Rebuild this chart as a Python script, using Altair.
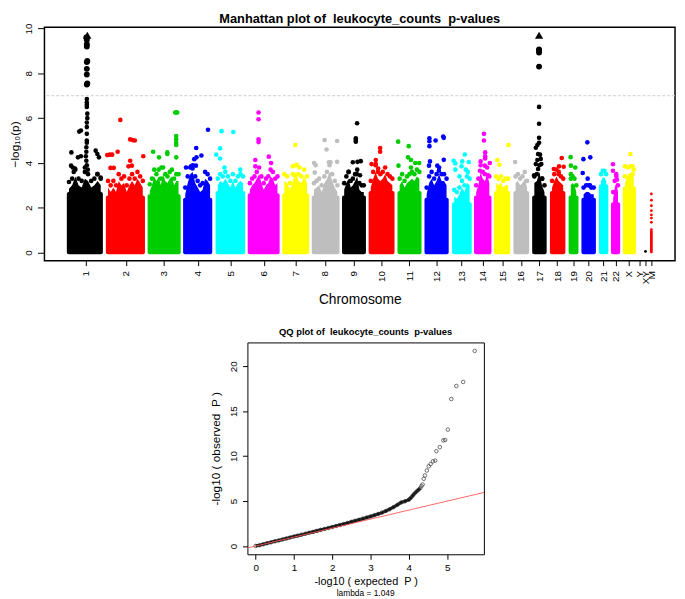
import json
import altair as alt
import pandas as pd

FONT = "Liberation Sans"

CHROMS = ["1","2","3","4","5","6","7","8","9","10","11","12","13","14","15","16","17","18","19","20","21","22","X","Y","XY","M"]
COLORS = ["#000000","#ff0000","#00cd00","#0000ff","#00ffff","#ff00ff","#ffff00","#bebebe",
          "#000000","#ff0000","#00cd00","#0000ff","#00ffff","#ff00ff","#ffff00","#bebebe",
          "#000000","#ff0000","#00cd00","#0000ff","#00ffff","#ff00ff","#ffff00","#bebebe","#000000","#ff0000"]
TICKS = [85,125.7,164,198.7,231.7,265.7,297.7,327.7,356.7,385,413.3,441,466,487.7,507.7,526.7,545,563.3,580,595.3,610,622.7,636.3,647.3,653,659]

# genome span of each autosome / X, on the cumulative position axis
SPANS = {"1":(65.7,102.3),"2":(105.3,145),"3":(147.7,181.3),"4":(183.7,213.3),"5":(216.7,246.7),"6":(249.3,281.7),
         "7":(284.3,311.7),"8":(314.3,342.5),"9":(345,369.3),"10":(372,398.3),"11":(401.3,425.7),"12":(428.7,453.3),
         "13":(456.7,476.7),"14":(479,496.7),"15":(499.3,515.7),"16":(519,535),"17":(538,552.7),"18":(556,571.7),
         "19":(575,585),"20":(588,602.7),"21":(605.7,615.3),"22":(618,627.3),"X":(630,643.3)}
M_SPAN = (657.6,660.4)
M_SOLID_TOP = 1.0

# upper edge of the dense cloud of each chromosome
TOPS = {"1":[3.15,3.3,3.7,3.3,3.2,3.6,3.5,3.2,3.3,3.5,3.3],
        "2":[3.2,3.0,3.2,3.0,3.5,3.3,3.4,3.0,3.3,3.5,3.3,3.6,3.4,3.2],
        "3":[3.05,3.3,3.7,3.5,3.7,3.3,3.8,3.5,3.4,3.6,3.7,3.3,3.5,3.5],
        "4":[2.9,3.4,3.8,3.9,3.4,3.2,3.0,3.1,3.6,3.5,3.3],
        "5":[3.3,3.5,3.4,3.6,3.4,3.2,3.5,3.2,3.4,3.5,3.4],
        "6":[3.1,3.3,3.4,3.6,3.8,3.4,3.1,3.3,3.4,3.7,3.6,3.3,3.4],
        "7":[3.5,3.4,3.1,3.5,3.9,3.5,3.4,3.7,3.4],
        "8":[3.1,3.2,3.3,3.0,3.4,3.6,3.9,3.5,3.2,3.0],
        "9":[3.1,3.4,3.6,3.2,3.3,3.5,3.7,3.1,3.0,3.0],
        "10":[3.2,3.6,3.9,3.6,3.5,3.6,3.8,3.5,3.4,3.3],
        "11":[3.3,3.5,3.2,3.4,3.5,3.6,3.5,3.7,3.6],
        "12":[2.9,3.4,3.6,3.3,3.5,3.8,3.5,3.5,3.3],
        "13":[2.8,2.7,2.9,3.2,3.0,3.4,3.3],
        "14":[3.0,3.3,3.9,3.6,3.5,3.8,3.4],
        "15":[3.4,3.3,3.4,3.2,3.3,3.3],
        "16":[3.4,3.5,3.3,3.4,3.6,3.2],
        "17":[3.4,3.5,3.9,3.3,3.0],
        "18":[3.2,3.5,3.7,3.5,3.4,3.3],
        "19":[3.3,3.4,3.3,3.0],
        "20":[2.9,3.0,3.0,2.9,2.9],
        "21":[3.5,3.65,3.65,3.5],
        "22":[2.7,3.2,3.4,3.0],
        "X":[3.4,3.8,3.85,3.7]}

# individual variants above the cloud: (position, -log10 p)
HITS = {"1":[(70.3,4.47),(70,3.88),(71.7,3.8),(74,3.75),(72.7,3.6),(77,4.25),(80,4.3),(78.3,5.4),(80,5.45),(95,4.55),(96.7,4.4),(98.3,4.25),(96.7,3.5),(100,3.35),
             (86,6.85),(86,6.7),(86,6.6),(86,6.5),(86.5,6.2),(86.5,6.0),(86,5.8),(86,5.6),(86,5.3),(86,5.0),(86,4.9),(85.5,4.7),(85.5,4.5),(85,4.3),(85.5,4.1),(86,3.9),(87,3.7),(84,3.8)],
        "2":[(106.7,4.35),(109.3,4.37),(111.7,4.37),(117.3,4.5),(120,5.92),(130,5.05),(132.7,5.02),(134.7,5.0),(130,4.1),(143.3,4.3),(110,3.78),(113.3,3.78),(128.3,3.85),(131.7,3.88)],
        "3":[(153.3,4.5),(159.3,4.25),(167.7,4.47),(167.7,4.4),(176.7,6.25),(175.7,6.25),(177.7,6.25),(176.7,5.2),(176.7,5.05),(176.7,4.9),(176.7,4.8),(176.7,4.25),(161.7,3.8)],
        "4":[(197,4.67),(195,4.17),(197.3,4.25),(202.3,4.33),(209,5.48),(186.7,3.8),(191.7,3.85),(196.7,3.88),(193.3,3.75)],
        "5":[(222.7,5.42),(234.7,5.38),(221.3,4.65),(217.3,4.37),(221.3,4.2),(225.7,3.8),(241.7,3.7)],
        "6":[(260.3,6.25),(260.3,5.95),(260.3,5.05),(260.3,4.93),(257,4.13),(270.7,4.28),(273,4.0),(257,3.85)],
        "7":[(297.7,4.8),(295,3.85),(299,3.92),(301.7,3.8),(296.7,3.45)],
        "8":[(327.3,5.02),(340,4.98),(329.3,4.6),(340,4.05),(316.7,4.0),(318.3,3.9),(317.3,3.57),(331.7,4.03),(333.3,4.03)],
        "9":[(360.3,5.77),(359,5.1),(359,5.02),(359,4.95),(356,4.03),(360.7,4.05),(364,4.08),(360,3.5),(351.7,3.6),(363.3,3.45)],
        "10":[(383.7,4.67),(383.7,4.5),(379.3,4.13),(375,3.95),(379.3,3.95),(381.7,3.75)],
        "11":[(402,4.95),(412.7,4.75),(412,4.25),(415,4.13),(419.3,4.0),(423.3,4.0),(402.3,3.88),(415,3.8)],
        "12":[(433.7,5.1),(433.7,4.97),(433.7,4.75),(440,5.0),(447.7,5.18),(448.3,5.12),(434.3,4.07),(433.3,3.88),(448.3,4.14),(441.7,3.88),(443.3,3.65)],
        "13":[(469.7,4.38),(458.3,4.1),(460,3.98),(467,4.07),(473.7,4.04),(466.3,3.85),(460,3.7),(470.7,3.7),(472.7,3.6),(464.3,3.4)],
        "14":[(489,5.3),(489,5.0),(490.3,4.47),(490.3,4.3),(490.3,4.2),(485.7,4.07),(495,4.0),(490,3.88),(485,3.65),(493.3,3.45)],
        "15":[(514,4.8),(502.7,4.13),(504.7,3.92)],
        "16":[(520.7,4.04)],
        "17":[(545,6.5),(545,5.75),(545,5.12),(545,4.9),(543.3,4.8),(541.7,4.68),(544,4.4),(546,4.37),(546.7,4.18),(543.3,4.13),(541.7,3.95),(547.3,3.95),(544,3.73),(540,3.45),(548.3,3.3)],
        "18":[(568,4.22),(565.3,3.85),(570,3.83),(560,3.73),(565,3.6)],
        "19":[(577,4.26),(577.3,3.88),(581.7,3.8),(577.3,3.5)],
        "20":[(594,4.92),(590,4.17),(597,4.25),(589.3,3.55),(594.3,3.3),(596.7,3.0)],
        "22":[(620,3.94),(620,3.65),(623.3,3.5),(624,3.25)],
        "X":[(637.7,4.4),(632.3,3.85),(640,3.85),(640,3.5)],
        "XY":[(653,0.05)],
        "M":[(659,2.62),(659,2.34),(659,2.09),(659,1.87),(659,1.68),(659,1.54),(659,1.35),(659,1.02)]}

# strongest signals, drawn larger
TOP_HITS = {"1":[(86,7.5),(86.5,7.55),(86,7.95),(86,8.2),(86,8.5),(86.5,8.55),(86,9.2),(86,9.3),(86,9.5),(85.5,9.6)],
            "17":[(545,9.03),(545,8.93),(545,9.07),(545,8.3)]}
CAPPED = {"1":[(86.5,9.7)],"17":[(545,9.7)]}

QQ_EXP = [0,.1,.2,.3,.4,.5,.6,.7,.8,.9,1,1.1,1.2,1.3,1.4,1.5,1.6,1.7,1.8,1.9,2,2.1,2.2,2.3,2.4,2.5,2.6,2.7,2.8,2.9,3,3.1,3.2,3.3,3.4,3.5,3.6,3.7,3.8,3.9,4,4.05,4.1,4.15,4.2,4.25,4.3,4.33,4.36,4.39,4.42,4.47,4.52,4.57,4.63,4.69,4.72,4.81,4.9,4.95,5.02,5.11,5.24,5.42,5.72]
QQ_OBS = [.02,.1,.21,.32,.42,.53,.63,.74,.84,.95,1.06,1.16,1.27,1.37,1.48,1.58,1.69,1.8,1.91,2.01,2.12,2.23,2.34,2.45,2.57,2.69,2.81,2.93,3.05,3.17,3.3,3.43,3.57,3.72,3.9,4.1,4.33,4.58,4.85,4.98,5.15,5.35,5.6,5.85,6.05,6.25,6.45,6.68,6.85,7.48,7.85,8.4,8.87,9.12,9.42,9.5,10.55,11,11.75,11.8,12.95,16.35,17.8,18.25,21.7]
LINE_ENDS = [-0.214,5.96]

def rows(d):
    return pd.DataFrame([{"chrom":c,"pos":p,"y":v} for c,l in d.items() for p,v in l])

bars, env = [], []
for c,(a,b) in SPANS.items():
    t = TOPS[c]
    bars.append({"chrom":c,"pos":a,"pos2":b,"y":-0.07,"y2":min(t)-0.45})
    for i,v in enumerate(t):
        env.append({"chrom":c,"pos":a+2.2+(b-a-4.4)*i/(len(t)-1),"y":v})
bars.append({"chrom":"M","pos":M_SPAN[0],"pos2":M_SPAN[1],"y":-0.03,"y2":M_SOLID_TOP})
bars, env = pd.DataFrame(bars), pd.DataFrame(env)
env_fill = env.assign(y=env.y-0.3, y0=0.5)

X = alt.X("pos:Q", scale=alt.Scale(domain=[43,683],nice=False,zero=False),
          axis=alt.Axis(values=TICKS, labelExpr=json.dumps({str(k):v for k,v in zip(TICKS,CHROMS)})+"[datum.value]",
                        labelAngle=270, labelFontSize=10, labelOverlap=False, labelPadding=5, tickSize=5, tickColor="black",
                        grid=False, domain=False, title="Chromosome", titleFontSize=14, titleFontWeight="normal", titlePadding=9, labelFont=FONT, titleFont=FONT))
Y = alt.Y("y:Q", scale=alt.Scale(domain=[-0.36,10.06],nice=False,zero=False),
          axis=alt.Axis(values=[0,2,4,6,8,10], labelAngle=270, labelAlign="center", labelBaseline="middle", labelFontSize=10,
                        labelPadding=9, tickSize=7, tickColor="black", grid=False, domain=False, title="\u2212log\u2081\u2080(p)",
                        titleFontSize=12, titleFontWeight="normal", titlePadding=2, labelFont=FONT, titleFont=FONT))
C = alt.Color("chrom:N", scale=alt.Scale(domain=CHROMS[:-3]+["XY","M"], range=COLORS[:-3]+["#000000","#ff0000"]), legend=None)

rule = alt.Chart(pd.DataFrame({"y":[7]})).mark_rule(color="#cccccc", strokeDash=[3,2], strokeWidth=1).encode(y=Y)
body = alt.Chart(bars).mark_bar(cornerRadius=2).encode(x=X, x2="pos2:Q", y=Y, y2="y2:Q", color=C)
cloud = alt.Chart(env_fill).mark_area(opacity=1).encode(x=X, y=Y, y2="y0:Q", color=C)
edge = alt.Chart(env).mark_circle(size=22, opacity=1).encode(x=X, y=Y, color=C)
hits = alt.Chart(rows({k:v for k,v in HITS.items() if k not in("XY","M")})).mark_circle(size=22, opacity=1).encode(x=X, y=Y, color=C)
mito = alt.Chart(rows({k:HITS[k] for k in("XY","M")})).mark_circle(size=8, opacity=1).encode(x=X, y=Y, color=C)
tops = alt.Chart(rows(TOP_HITS)).mark_circle(size=36, opacity=1).encode(x=X, y=Y, color=C)
caps = alt.Chart(rows(CAPPED)).mark_point(shape="triangle-up", size=70, filled=True, opacity=1).encode(x=X, y=Y, color=C)

manhattan = alt.layer(rule, body, cloud, edge, hits, mito, tops, caps).properties(
    width=640, height=237,
    title=alt.TitleParams("Manhattan plot of \u00a0leukocyte_counts \u00a0p-values", font=FONT, fontSize=13, fontWeight="bold", offset=-3, anchor="middle"),
    view=alt.ViewConfig(stroke="black", strokeWidth=1.5))

qq = pd.DataFrame({"x":QQ_EXP,"y":QQ_OBS})
QX = alt.X("x:Q", scale=alt.Scale(domain=[-0.214,5.96],nice=False,zero=False),
           axis=alt.Axis(values=[0,1,2,3,4,5], labelFontSize=10, labelAngle=0, tickSize=5, labelPadding=3, tickColor="black", grid=False, domain=False,
                         title="-log10 ( expected \u00a0P )", titleFontSize=11, titleFontWeight="normal", titlePadding=4, labelFont=FONT, titleFont=FONT))
QY = alt.Y("y:Q", scale=alt.Scale(domain=[-0.91,22.64],nice=False,zero=False),
           axis=alt.Axis(values=[0,5,10,15,20], labelFontSize=10, labelAngle=270, labelAlign="center", labelBaseline="middle", labelPadding=8.7, tickSize=5, tickColor="black", grid=False, domain=False,
                         title="-log10 ( observed \u00a0P )", titleFontSize=12, titleFontWeight="normal", titlePadding=7, labelFont=FONT, titleFont=FONT))
band = alt.Chart(qq[qq.x<=4.3]).mark_line(color="#111111", strokeWidth=3.2).encode(x=QX, y=QY)
circles = alt.Chart(qq).mark_point(shape="circle", size=13, filled=False, color="#333333", strokeWidth=0.7, opacity=1).encode(x=QX, y=QY)
refline = alt.Chart(pd.DataFrame({"x":LINE_ENDS,"y":LINE_ENDS})).mark_line(color="#ff5555", strokeWidth=1, opacity=0.9).encode(x=QX, y=QY)
lam = alt.Chart(pd.DataFrame({"t":["lambda = 1.049"]})).mark_text(font=FONT, fontSize=8.5, baseline="middle", align="center", color="black").encode(
    text="t:N", x=alt.value(120), y=alt.value(254))
qqchart = alt.layer(band, circles, refline, lam).properties(
    width=240, height=215,
    title=alt.TitleParams("QQ plot of \u00a0leukocyte_counts \u00a0p-values", font=FONT, fontSize=9.5, fontWeight="bold", offset=6, anchor="middle"),
    view=alt.ViewConfig(stroke="black", strokeWidth=1))

spacer = alt.Chart(pd.DataFrame({"a":[0]})).mark_point(opacity=0).encode(x=alt.value(0), y=alt.value(0)).properties(
    width=165, height=10, view=alt.ViewConfig(stroke="transparent"))

chart = alt.vconcat(manhattan, alt.hconcat(spacer, qqchart, spacing=0), spacing=19).properties(padding=0, background="white")
chart.save("out.html", embed_options={"renderer": "svg", "actions": False})
